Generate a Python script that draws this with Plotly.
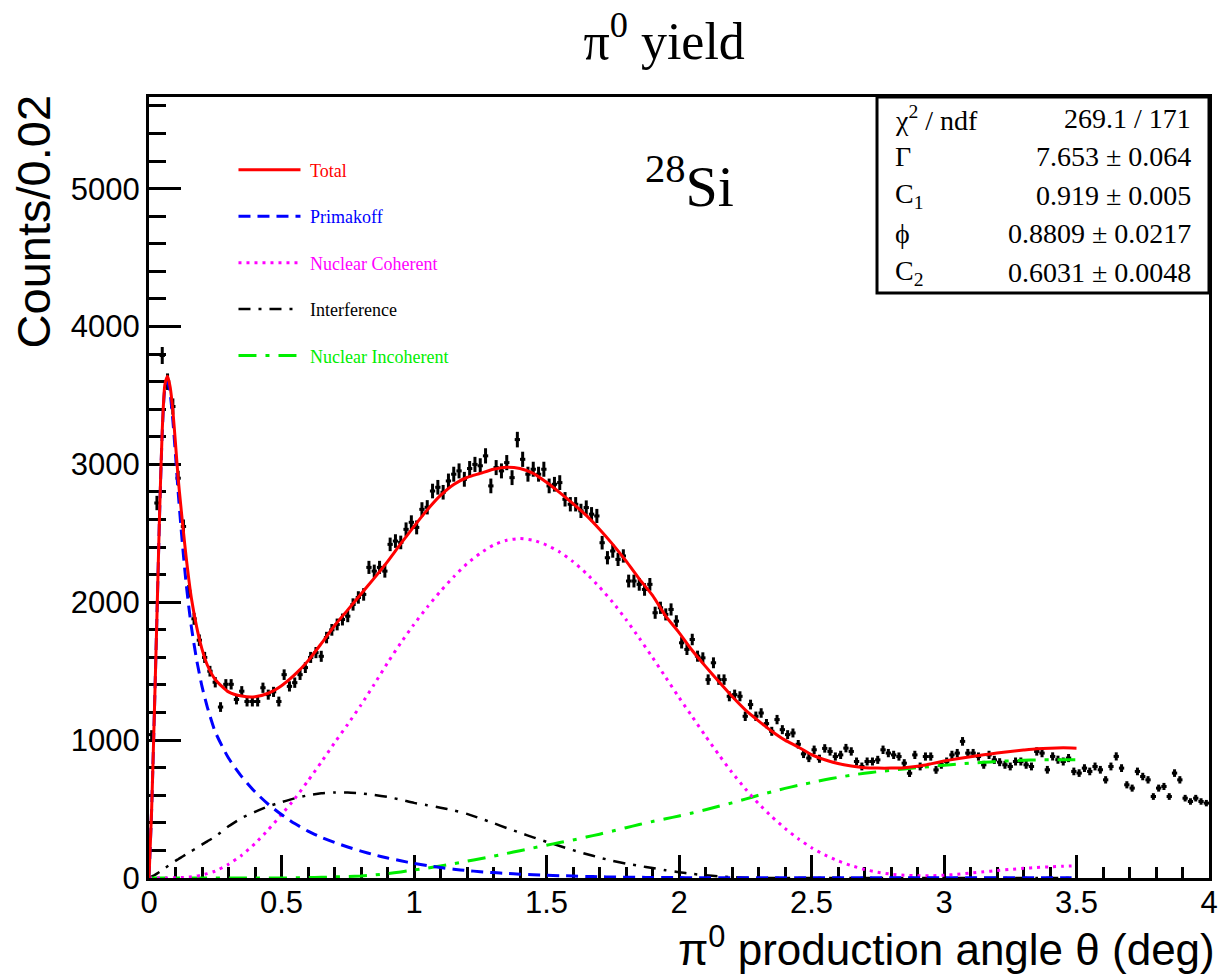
import numpy as np
import plotly.graph_objects as go

# measured yield per 0.02 deg bin (bins 0.00-0.02 ... 3.98-4.00)
counts = [
    1040, 2720, 3790, 3600, 3420, 2900, 2550, 2080, 1880, 1725,
    1600, 1500, 1420, 1240, 1405, 1405, 1295, 1355, 1280, 1280,
    1280, 1380, 1330, 1350, 1280, 1475, 1390, 1417, 1475, 1526,
    1600, 1635, 1608, 1744, 1800, 1839, 1875, 1899, 1984, 2035,
    2057, 2253, 2226, 2253, 2226, 2420, 2444, 2434, 2529, 2580,
    2543, 2674, 2689, 2807, 2834, 2798, 2880, 2929, 2953, 2892,
    2970, 3000, 2990, 3062, 2844, 2977, 2953, 3013, 2904, 3180,
    3037, 2929, 2965, 2929, 2965, 2844, 2856, 2868, 2747, 2711,
    2711, 2663, 2687, 2639, 2626, 2432, 2323, 2372, 2311, 2336,
    2154, 2154, 2130, 2093, 2130, 1924, 1960, 1912, 1948, 1863,
    1706, 1658, 1730, 1609, 1597, 1439, 1561, 1439, 1439, 1318,
    1330, 1318, 1173, 1258, 1173, 1197, 1120, 1064, 1149, 1076,
    1040, 1052, 970, 900, 870, 930, 865, 940, 918, 881,
    893, 942, 918, 845, 809, 845, 845, 857, 930, 906,
    893, 881, 833, 760, 893, 809, 881, 881, 784, 821,
    845, 893, 906, 991, 906, 906, 881, 821, 893, 857,
    840, 821, 809, 845, 845, 821, 809, 918, 906, 785,
    882, 858, 845, 870, 773, 761, 797, 773, 809, 785,
    712, 809, 882, 797, 676, 652, 773, 736, 712, 591,
    652, 664, 591, 761, 712, 579, 555, 579, 555, 543,
]
bin_width = 0.02
bin_centers = np.round(bin_width / 2 + bin_width * np.arange(len(counts)), 3)
count_errors = np.sqrt(np.array(counts, dtype=float))

# fit components
fit_x = [
    0.00, 0.01, 0.02, 0.03, 0.04, 0.05, 0.06, 0.07, 0.08, 0.09, 0.10, 0.11,
    0.12, 0.13, 0.14, 0.15, 0.16, 0.18, 0.20, 0.22, 0.25, 0.30, 0.35, 0.40,
    0.45, 0.50, 0.55, 0.60, 0.65, 0.70, 0.75, 0.80, 0.85, 0.90, 0.95, 1.00,
    1.05, 1.10, 1.15, 1.20, 1.25, 1.30, 1.35, 1.40, 1.45, 1.50, 1.55, 1.60,
    1.65, 1.70, 1.75, 1.80, 1.85, 1.90, 1.95, 2.00, 2.05, 2.10, 2.15, 2.20,
    2.25, 2.30, 2.35, 2.40, 2.45, 2.50, 2.55, 2.60, 2.65, 2.70, 2.75, 2.80,
    2.85, 2.90, 2.95, 3.00, 3.05, 3.10, 3.15, 3.20, 3.25, 3.30, 3.35, 3.40,
    3.45, 3.50,
]
fit_total = [
    0, 500, 1180, 1900, 2650, 3250, 3580, 3640, 3560, 3390, 3150, 2900,
    2700, 2510, 2330, 2170, 2030, 1820, 1660, 1545, 1440, 1350, 1320, 1315,
    1340, 1395, 1475, 1575, 1700, 1830, 1945, 2060, 2175, 2295, 2425, 2550,
    2670, 2775, 2855, 2905, 2935, 2965, 2980, 2970, 2935, 2870, 2795, 2715,
    2630, 2530, 2420, 2300, 2170, 2050, 1900, 1780, 1650, 1535, 1425, 1318,
    1220, 1140, 1065, 1000, 950, 895, 858, 830, 812, 800, 797, 797,
    800, 810, 828, 848, 865, 880, 894, 906, 918, 928, 937, 942,
    944, 942,
]
fit_primakoff = [
    0, 500, 1180, 1900, 2640, 3230, 3550, 3600, 3510, 3320, 3070, 2800,
    2560, 2340, 2140, 1970, 1820, 1580, 1390, 1240, 1060, 870, 735, 625,
    535, 460, 395, 340, 295, 258, 225, 195, 168, 145, 125, 106,
    90, 76, 64, 54, 46, 39, 33, 28, 24, 20, 17, 14,
    11, 9, 7, 6, 5, 4, 3, 3, 2, 2, 2, 2,
    1, 1, 1, 1, 1, 1, 1, 1, 1, 1, 1, 1,
    1, 1, 1, 1, 1, 1, 1, 1, 1, 1, 1, 1,
    1, 1,
]
fit_coherent = [
    0, 0, 0, 0, 0, 0, 0, 0, 0, 1, 1, 2,
    3, 4, 5, 7, 9, 14, 22, 32, 50, 100, 165, 250,
    350, 460, 575, 705, 840, 980, 1115, 1255, 1405, 1560, 1705, 1840,
    1965, 2080, 2185, 2280, 2355, 2415, 2450, 2462, 2450, 2415, 2365, 2295,
    2210, 2110, 2000, 1875, 1740, 1600, 1455, 1310, 1170, 1030, 895, 765,
    648, 540, 445, 360, 285, 220, 168, 125, 90, 62, 42, 28,
    20, 16, 16, 20, 27, 36, 45, 54, 62, 70, 76, 81,
    85, 88,
]
fit_interference = [
    0, 10, 20, 32, 45, 58, 72, 85, 98, 111, 124, 136,
    148, 160, 172, 183, 195, 218, 242, 266, 300, 375, 435, 480,
    520, 550, 578, 600, 614, 620, 620, 614, 603, 588, 568, 545,
    528, 510, 490, 465, 432, 398, 362, 328, 295, 262, 232, 202,
    174, 148, 124, 104, 88, 72, 56, 42, 30, 20, 12, 6,
    2, 0, 0, 0, 0, 0, 0, 0, 0, 0, 0, 0,
    0, 0, 0, 0, 0, 0, 0, 0, 0, 0, 0, 0,
    0, 0,
]
fit_incoherent = [
    0, 0, 0, 0, 0, 0, 0, 0, 0, 0, 0, 0,
    0, 0, 0, 0, 0, 0, 0, 0, 0, 0, 0, 0,
    0, 0, 1, 3, 5, 8, 11, 15, 22, 32, 44, 58,
    72, 88, 104, 122, 140, 158, 178, 198, 218, 238, 257, 276,
    297, 318, 341, 365, 388, 410, 430, 450, 472, 495, 520, 545,
    572, 600, 625, 650, 672, 692, 712, 730, 746, 760, 771, 781,
    791, 800, 809, 818, 826, 833, 839, 845, 850, 854, 857, 858,
    858, 857,
]

stat_labels = ["χ<sup>2</sup> / ndf", "Γ", "C<sub>1</sub>", "ϕ", "C<sub>2</sub>"]
stat_values = ["269.1 / 171", "7.653 ± 0.064", "0.919 ± 0.005",
               "0.8809 ± 0.0217", "0.6031 ± 0.0048"]

SERIF = "Liberation Serif, Times New Roman, serif"
SANS = "Liberation Sans, Arial, Helvetica, sans-serif"

fig = go.Figure()

fig.add_trace(
    go.Scatter(
        x=bin_centers,
        y=counts,
        mode="markers",
        marker=dict(color="black", size=3),
        error_y=dict(type="data", array=count_errors, color="black", thickness=3, width=0),
        error_x=dict(type="constant", value=bin_width / 2, color="black", thickness=3, width=0),
        showlegend=False,
        name="data",
    )
)

components = [
    ("Interference", fit_interference, "black", "12px,8px,3px,8px", 2.5),
    ("Nuclear Incoherent", fit_incoherent, "#00ee00", "18px,9px,4px,9px", 3),
    ("Nuclear Coherent", fit_coherent, "#ff00ff", "3px,5px", 3),
    ("Primakoff", fit_primakoff, "blue", "12px,7px", 3),
    ("Total", fit_total, "red", "solid", 3),
]
legend_rank = {"Total": 1, "Primakoff": 2, "Nuclear Coherent": 3,
               "Interference": 4, "Nuclear Incoherent": 5}
for name, ys, color, dash, width in components:
    fig.add_trace(
        go.Scatter(
            x=fit_x,
            y=ys,
            mode="lines",
            line=dict(color=color, dash=dash, width=width, shape="spline", smoothing=0.6),
            name=f"&nbsp;<span style='color:{color}'>{name}</span>",
            legendgroup=name,
            legendrank=legend_rank[name],
        )
    )

# stats box
fig.add_shape(
    type="rect", xref="paper", yref="paper",
    x0=0.6868, x1=1.0, y0=0.749, y1=1.0,
    line=dict(color="black", width=3), fillcolor="white", layer="above",
)
row_y = [0.9731, 0.9232, 0.8745, 0.8246, 0.7759]
for label, value, yy in zip(stat_labels, stat_values, row_y):
    fig.add_annotation(
        x=0.7019, y=yy, xref="paper", yref="paper", text=label,
        showarrow=False, xanchor="left", yanchor="middle",
        font=dict(family=SERIF, size=28, color="black"),
    )
    fig.add_annotation(
        x=0.9849, y=yy, xref="paper", yref="paper", text=value,
        showarrow=False, xanchor="right", yanchor="middle",
        font=dict(family=SERIF, size=28, color="black"),
    )

fig.add_annotation(
    x=0.51, y=0.89, xref="paper", yref="paper", text="<sup>28</sup>Si",
    showarrow=False, xanchor="center", yanchor="middle",
    font=dict(family=SERIF, size=58, color="black"),
)

fig.add_annotation(
    x=-0.1094, y=1.004, xref="paper", yref="paper", text="Counts/0.02",
    showarrow=False, textangle=-90, xanchor="center", yanchor="top",
    font=dict(family=SANS, size=47, color="black"),
)
fig.add_annotation(
    x=1.008, y=-0.0875, xref="paper", yref="paper",
    text="π<sup>0</sup> production angle θ (deg)",
    showarrow=False, xanchor="right", yanchor="middle",
    font=dict(family=SANS, size=44, color="black"),
)

fig.update_layout(
    width=1219,
    height=977,
    margin=dict(l=149, r=10, t=97, b=99, autoexpand=False),
    paper_bgcolor="white",
    plot_bgcolor="white",
    title=dict(
        text="π<sup>0</sup> yield", x=0.486, xanchor="center", xref="paper",
        y=0.958, yanchor="middle",
        font=dict(family=SERIF, size=52, color="black"),
    ),
    legend=dict(
        x=0.0797, y=0.93, xanchor="left", yanchor="top",
        bgcolor="rgba(0,0,0,0)", borderwidth=0,
        font=dict(family=SERIF, size=18),
        tracegroupgap=20, itemwidth=62,
    ),
    showlegend=True,
)
fig.update_xaxes(
    range=[0, 4], dtick=0.5, showgrid=False, zeroline=False, automargin=False,
    showline=True, linecolor="black", linewidth=3, mirror=True,
    ticks="inside", ticklen=23, tickwidth=2.5, tickcolor="black",
    minor=dict(dtick=0.1, ticks="inside", ticklen=11, tickwidth=2.5, tickcolor="black"),
    tickfont=dict(family=SANS, size=31, color="black"),
    ticklabelstandoff=-5,
    layer="below traces",
)
fig.update_yaxes(
    range=[0, 5665], dtick=1000, showgrid=False, zeroline=False, automargin=False,
    showline=True, linecolor="black", linewidth=3, mirror=True,
    ticks="inside", ticklen=32, tickwidth=2.5, tickcolor="black",
    minor=dict(dtick=200, ticks="inside", ticklen=17, tickwidth=2.5, tickcolor="black"),
    tickfont=dict(family=SANS, size=31, color="black"),
    ticklabelstandoff=0,
    layer="below traces",
)

fig.write_html(
    "out.html",
    config={"displayModeBar": False},
    post_script="document.body.style.margin='0';document.body.style.overflow='hidden';",
)
